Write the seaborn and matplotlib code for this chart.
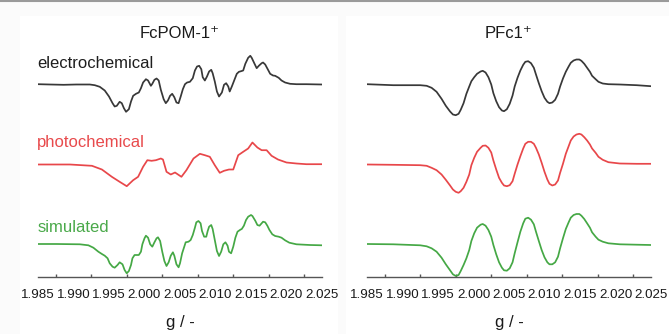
import numpy as np
import pandas as pd
import matplotlib
matplotlib.use("Agg")
import matplotlib.pyplot as plt
import seaborn as sns
from matplotlib.lines import Line2D
from matplotlib.patches import Rectangle
from matplotlib.ticker import MultipleLocator

# EPR traces: g value and signal (arb. units, baseline = 0)

# FcPOM-1+ electrochemical
fcpom_elec_g = [1.9850, 1.9867, 1.9886, 1.9904, 1.9923, 1.9930, 1.9937, 1.9944, 1.9950, 1.9955,
                1.9958, 1.9961, 1.9965, 1.9968, 1.9971, 1.9974, 1.9978, 1.9981, 1.9984, 1.9988,
                1.9992, 1.9995, 1.9998, 2.0002, 2.0005, 2.0009, 2.0011, 2.0014, 2.0017, 2.0020,
                2.0023, 2.0027, 2.0030, 2.0033, 2.0036, 2.0039, 2.0042, 2.0045, 2.0048, 2.0051,
                2.0054, 2.0057, 2.0060, 2.0064, 2.0068, 2.0071, 2.0074, 2.0077, 2.0080, 2.0082,
                2.0085, 2.0088, 2.0091, 2.0094, 2.0096, 2.0099, 2.0102, 2.0105, 2.0109, 2.0112,
                2.0115, 2.0118, 2.0120, 2.0123, 2.0127, 2.0130, 2.0133, 2.0136, 2.0139, 2.0142,
                2.0146, 2.0149, 2.0151, 2.0155, 2.0158, 2.0161, 2.0165, 2.0167, 2.0170, 2.0174,
                2.0177, 2.0181, 2.0184, 2.0189, 2.0193, 2.0198, 2.0205, 2.0214, 2.0228, 2.0250]
fcpom_elec_i = [0.3, 0, -0.3, 0, 0, -0.7, -2.3, -6, -12, -18.7,
                -22, -21.3, -17.3, -18.7, -23.7, -27.3, -24.7, -17, -11.3, -9.3,
                -8, -3.7, 2, 5.3, 4, -1.3, 0.7, 4.7, 6, 4,
                -5.3, -14.7, -18.7, -16, -11.3, -9.3, -12.7, -18, -18.7, -12,
                -4.7, 0.3, 2, 2.7, 6.3, 14, 18, 18.7, 15.3, 7.3,
                4, 8, 13, 14.7, 11.3, 3, -7, -12, -8, -0.3,
                1.3, -2, -7, -2, 5.3, 10.7, 12.7, 13.3, 14, 20.7,
                26.7, 28.7, 26.7, 20.7, 16.3, 18.7, 21.3, 22, 20, 14.7,
                10.7, 9, 8.7, 6.7, 4, 2, 0.7, 0.3, 0.3, 0]

# FcPOM-1+ photochemical
fcpom_photo_g = [1.9850, 1.9895, 1.9926, 1.9940, 1.9954, 1.9965, 1.9975, 1.9984, 1.9991, 1.9998,
                 2.0004, 2.0010, 2.0016, 2.0023, 2.0026, 2.0031, 2.0037, 2.0043, 2.0052, 2.0059,
                 2.0069, 2.0078, 2.0085, 2.0092, 2.0099, 2.0106, 2.0112, 2.0119, 2.0125, 2.0132,
                 2.0139, 2.0146, 2.0152, 2.0159, 2.0165, 2.0172, 2.0179, 2.0188, 2.0200, 2.0214,
                 2.0228, 2.0250]
fcpom_photo_i = [0, 0, -1.3, -5, -12.3, -17.3, -21.7, -15.7, -12.3, -2.3,
                 4.3, 3.7, 4.3, 6, 5, -7.3, -10, -8, -12.3, -5.7,
                 6, 10.7, 9.3, 7.7, -0.7, -8.3, -6.3, -5, -5, 9.3,
                 12.7, 16, 22, 17, 14.3, 14.3, 8.7, 5, 2, 1,
                 0.3, 0.3]

# FcPOM-1+ simulated
fcpom_sim_g = [1.9850, 1.9876, 1.9909, 1.9921, 1.9928, 1.9935, 1.9940, 1.9944, 1.9948, 1.9951,
               1.9955, 1.9958, 1.9962, 1.9965, 1.9969, 1.9972, 1.9975, 1.9978, 1.9981, 1.9983,
               1.9986, 1.9989, 1.9992, 1.9995, 1.9997, 2.0000, 2.0002, 2.0005, 2.0008, 2.0011,
               2.0014, 2.0017, 2.0019, 2.0022, 2.0025, 2.0028, 2.0031, 2.0034, 2.0037, 2.0040,
               2.0042, 2.0045, 2.0048, 2.0050, 2.0053, 2.0056, 2.0058, 2.0062, 2.0065, 2.0068,
               2.0071, 2.0073, 2.0076, 2.0079, 2.0081, 2.0084, 2.0087, 2.0089, 2.0091, 2.0094,
               2.0096, 2.0099, 2.0102, 2.0105, 2.0108, 2.0111, 2.0114, 2.0117, 2.0119, 2.0122,
               2.0125, 2.0128, 2.0131, 2.0135, 2.0137, 2.0140, 2.0143, 2.0146, 2.0150, 2.0152,
               2.0156, 2.0159, 2.0162, 2.0165, 2.0167, 2.0170, 2.0173, 2.0176, 2.0180, 2.0184,
               2.0189, 2.0193, 2.0198, 2.0204, 2.0214, 2.0233, 2.0250]
fcpom_sim_i = [0, 0, -0.3, -1.3, -3.7, -7.7, -10, -11.7, -14.3, -19.3,
               -22.7, -23.7, -21, -18.3, -20.3, -26, -29.3, -27, -21, -14.3,
               -11, -11, -11, -7.7, -0.3, 5.7, 8.3, 6.3, -0.3, -2.7,
               1.7, 5.7, 6.7, 3, -7.7, -17, -22, -18.3, -11.7, -8.3,
               -11.7, -20.3, -23.3, -19.3, -9.3, -2.7, 1.7, 2.3, 4, 9,
               16.3, 21.7, 23, 20.7, 13, 7.3, 7.3, 13, 17.3, 19,
               15, 4, -7, -12, -7.7, -0.3, 1.7, -1.7, -7.7, -9.3,
               -2.7, 6.3, 12.3, 14.3, 15, 18.3, 24, 27.3, 29, 28,
               23.3, 19, 18.3, 20.7, 22.3, 21.7, 18.3, 14, 9.7, 8,
               7.3, 6.3, 3.7, 1.3, -0.3, -1, -1.3]

# PFc1+ (all three traces read on the same g positions)
pfc_g = [1.9850, 1.9887, 1.9925, 1.9934, 1.9941, 1.9948, 1.9955, 1.9961, 1.9967, 1.9971,
         1.9975, 1.9979, 1.9982, 1.9986, 1.9990, 1.9994, 1.9997, 2.0001, 2.0005, 2.0010,
         2.0013, 2.0017, 2.0021, 2.0025, 2.0028, 2.0032, 2.0036, 2.0040, 2.0043, 2.0047,
         2.0051, 2.0055, 2.0058, 2.0062, 2.0066, 2.0070, 2.0073, 2.0077, 2.0081, 2.0085,
         2.0088, 2.0092, 2.0096, 2.0100, 2.0104, 2.0107, 2.0111, 2.0115, 2.0119, 2.0122,
         2.0126, 2.0130, 2.0134, 2.0137, 2.0141, 2.0145, 2.0149, 2.0152, 2.0156, 2.0160,
         2.0164, 2.0167, 2.0172, 2.0176, 2.0182, 2.0190, 2.0206, 2.0230, 2.0250]
pfc_elec_i = [0.3, -0.7, -0.7, -1.3, -3.3, -7.3, -14.3, -21.3, -27, -30,
              -30.7, -29.3, -25.3, -18.7, -9.3, -2, 3.3, 7.3, 10.7, 13,
              13.7, 12, 7.3, 0, -8.7, -16.7, -22.7, -26, -26.7, -24.7,
              -19.3, -11, -2, 6.7, 14, 19.7, 22.7, 23.3, 21.3, 16.7,
              10, 1.3, -6.7, -13.3, -17.3, -18.7, -18, -15.3, -9.3, -2,
              6, 12.7, 18, 21.7, 24, 25, 25, 23.7, 20.7, 16.7,
              12.7, 8.7, 5.3, 2.7, 1, 0.3, 0, -0.7, -1.7]
pfc_photo_i = [0, -0.3, -0.7, -1.3, -3.3, -5.7, -10, -15.3, -21, -25,
               -27.3, -28.3, -26.7, -23.3, -17.3, -10, -0.7, 6.7, 12.7, 16.7,
               18.7, 19, 16.7, 12, 4, -5, -13.3, -18.3, -21, -21.7,
               -20.7, -16.7, -9.3, 0, 8.3, 16, 20.7, 22.7, 22.7, 20.7,
               16.7, 10, 1.7, -7.3, -15, -19.3, -21, -20, -16, -8.3,
               0.7, 10.7, 18.3, 24, 28, 30, 30.7, 30, 27.3, 24,
               20, 16, 11.7, 7.7, 4.7, 2.3, 1, 0.7, 0.7]
pfc_sim_i = [0, -0.3, -1.3, -2.3, -4.3, -7.7, -13.7, -20.3, -26.3, -30.3,
             -32, -31, -27, -21, -14.3, -6, 3, 10.7, 16.3, 19.3,
             20, 18.3, 14, 7.3, -1, -10.3, -18.3, -23.7, -26.3, -26.7,
             -24.3, -18.3, -9.3, 1.7, 12.3, 20.7, 25.3, 26.3, 24.3, 19.7,
             12.3, 3, -6, -13.3, -18.3, -20.3, -20.3, -18.3, -12.7, -4.3,
             5.7, 15, 21.7, 26.3, 29, 30, 30, 28.3, 25, 20.7,
             16.3, 11.7, 7.3, 4.3, 2.3, 0.7, -0.3, -0.7, -1]

trace_names = ["electrochemical", "photochemical", "simulated"]
panel_titles = ["FcPOM-1\u207a", "PFc1\u207a"]
g_ticks = [1.985, 1.990, 1.995, 2.000, 2.005, 2.010, 2.015, 2.020, 2.025]

colors = {"electrochemical": "#383838", "photochemical": "#e8474a", "simulated": "#45a845"}
label_colors = {"electrochemical": "#1e1e1e", "photochemical": "#e84a4c", "simulated": "#4aa94a"}
offsets = {"electrochemical": 192.5, "photochemical": 112.5, "simulated": 33}


def build_frame(gs, ins):
    rows = []
    for name, g, i in zip(trace_names, gs, ins):
        rows.append(pd.DataFrame({"g": g, "signal": np.array(i) + offsets[name], "trace": name}))
    return pd.concat(rows, ignore_index=True)


fcpom = build_frame([fcpom_elec_g, fcpom_photo_g, fcpom_sim_g],
                    [fcpom_elec_i, fcpom_photo_i, fcpom_sim_i])
pfc = build_frame([pfc_g, pfc_g, pfc_g],
                  [pfc_elec_i, pfc_photo_i, pfc_sim_i])

sns.set_style("white")
plt.rcParams['font.family'] = ['Liberation Sans', 'DejaVu Sans']

W, H = 669, 334
fig = plt.figure(figsize=(6.69, 3.34), dpi=100, facecolor="#fbfbfb")
# very faint white panel cards behind the two plots
fig.add_artist(Rectangle((20 / W, 0), 318 / W, 1 - 16 / H, transform=fig.transFigure,
                         facecolor="white", edgecolor="none", zorder=-5))
fig.add_artist(Rectangle((346 / W, 0), 323 / W, 1 - 16 / H, transform=fig.transFigure,
                         facecolor="white", edgecolor="none", zorder=-5))

ax_left = fig.add_axes([38 / W, 1 - 277 / H, 284 / W, 257 / H])
ax_right = fig.add_axes([367 / W, 1 - 277 / H, 284 / W, 257 / H])

for ax, df, title in [(ax_left, fcpom, panel_titles[0]), (ax_right, pfc, panel_titles[1])]:
    sns.lineplot(data=df, x="g", y="signal", hue="trace", palette=colors, sort=False,
                 estimator=None, linewidth=1.25, legend=False, ax=ax)
    ax.set_xlim(1.985, 2.025)
    ax.set_ylim(0, 257)
    for s in ["top", "left", "right"]:
        ax.spines[s].set_visible(False)
    ax.spines["bottom"].set_color("#555555")
    ax.spines["bottom"].set_linewidth(1.0)
    ax.set_xticks(g_ticks)
    ax.set_xticklabels([f"{t:.3f}" for t in g_ticks])
    ax.xaxis.set_minor_locator(MultipleLocator(0.0025))
    ax.tick_params(axis="x", which="major", direction="in", length=4, width=1,
                   color="#555555", pad=9, labelsize=9.6, labelcolor="#1a1a1a")
    ax.tick_params(axis="x", which="minor", direction="in", length=2.5, width=1,
                   color="#555555", bottom=True)
    ax.set_yticks([])
    ax.set_ylabel("")
    ax.set_xlabel("g / -", fontsize=12, color="#1a1a1a", labelpad=10)
    ax.set_title(title, fontsize=12, color="#1a1a1a", pad=-13)
    ax.patch.set_alpha(0)

ax_left.text(1.9849, 277 - 63, "electrochemical", fontsize=12, color=label_colors["electrochemical"],
             va="center", ha="left")
ax_left.text(1.9849, 277 - 143, "photochemical", fontsize=12, color=label_colors["photochemical"],
             va="center", ha="left")
ax_left.text(1.9849, 277 - 228, "simulated", fontsize=12, color=label_colors["simulated"],
             va="center", ha="left")

fig.add_artist(Line2D([0, 1], [0.996, 0.996], color="#9a9a9a", linewidth=1.5))

fig.savefig("out.png", dpi=100, facecolor=fig.get_facecolor())
